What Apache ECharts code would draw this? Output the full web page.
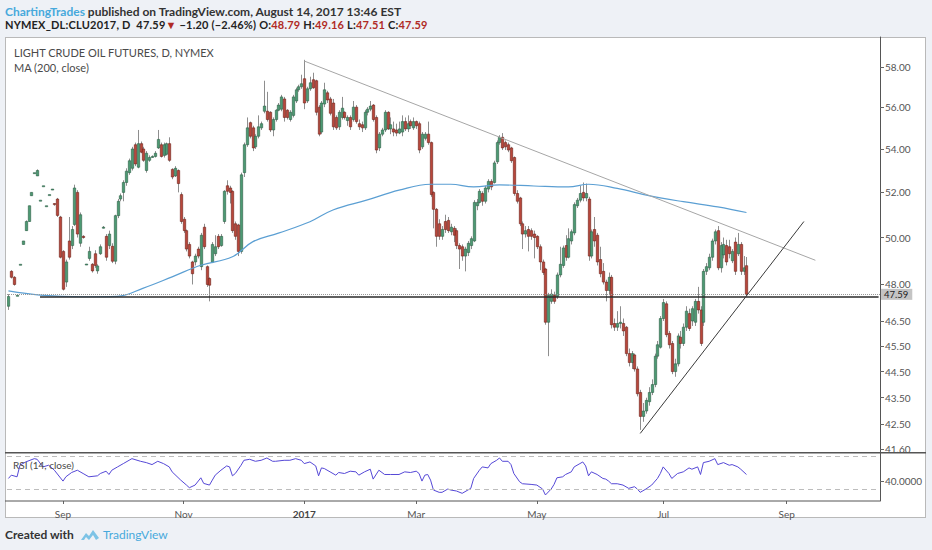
<!DOCTYPE html>
<html><head><meta charset="utf-8">
<script src="https://cdn.jsdelivr.net/npm/echarts@6/dist/echarts.min.js"></script>
<style>
html,body{margin:0;padding:0;background:#eef1f6;width:932px;height:550px;overflow:hidden;font-family:Lato,'Open Sans',sans-serif;}
.t{position:absolute;white-space:nowrap;z-index:5}
#frame{position:absolute;left:5px;top:37px;width:921px;height:481px;background:#fff;border:1px solid #b9b9b9;box-sizing:border-box;z-index:0}
#chart{position:absolute;left:0;top:0;width:932px;height:550px;z-index:1}
.red{color:#b02a25}
</style></head><body>
<div id="frame"></div>
<div id="chart"></div>
<div class="t" style="left:5px;top:4px;font-size:12px;font-weight:700;color:#333"><span style="color:#47a9dc">ChartingTrades</span> published on TradingView.com, August 14, 2017 13:46 EST</div>
<div class="t" style="left:5px;top:18px;font-size:11px;letter-spacing:0.2px;font-weight:700;color:#222">NYMEX_DL:CLU2017, D&nbsp; 47.59<span class="red">▼</span> −1.20 (−2.46%) O:<span class="red">48.79</span> H:<span class="red">49.16</span> L:<span class="red">47.51</span> C:<span class="red">47.59</span></div>
<div class="t" style="left:14px;top:46px;font-size:11px;color:#4a4a4a">LIGHT CRUDE OIL FUTURES, D, NYMEX</div>
<div class="t" style="left:14px;top:61px;font-size:11px;color:#4a4a4a">MA (200, close)</div>
<div class="t" style="left:13px;top:459px;font-size:10px;color:#4a4a4a">RSI (14, close)</div>
<div class="t" style="left:5px;top:527px;font-size:12px;font-weight:700;color:#333">Created with</div>
<svg class="t" style="left:80px;top:528px" width="20" height="14" viewBox="0 0 20 14"><path d="M1 12 L6 5 L9 8 L13 2 L19 10 L16 12 L13 7 L9 12 L6 9 L4 12 Z" fill="#7cc3e6"/></svg>
<div class="t" style="left:103px;top:527px;font-size:12px;color:#47a9dc">TradingView</div>
<script>
// ---------- data ----------
const startDate = '2016-08-05';
const barCount = 304;
const holidays = ['2016-09-05','2016-11-24','2016-12-26','2017-01-02','2017-01-16','2017-02-20','2017-04-14','2017-05-29','2017-07-04','2017-09-04'];
const monthNames = ['Jan','Feb','Mar','Apr','May','Jun','Jul','Aug','Sep','Oct','Nov','Dec'];
// [open, close, low, high]
const candles = [
[47.1,47.5,46.95,47.6],[48.55,48.3,48.25,48.6],[48.3,48.0,47.95,48.35],[47.55,47.55,47.55,47.55],[48.85,48.85,48.85,48.85],
[49.7,49.85,49.7,49.85],[50.3,50.7,50.3,50.75],[50.7,51.4,50.7,51.4],[51.85,52.0,51.85,52.0],[52.9,52.9,52.9,52.9],
[52.75,53.0,52.75,53.05],[51.65,51.65,51.65,51.65],[52.3,52.3,52.3,52.3],[51.4,51.4,51.4,51.4],[51.9,51.9,51.9,51.9],
[52.15,52.15,52.15,52.15],[51.5,51.45,51.4,51.5],[51.7,50.97,50.9,51.75],[50.9,49.15,49.1,50.95],[49.4,47.8,47.75,49.45],
[48.1,48.95,47.9,49.05],[49.85,49.15,49.05,50.9],[49.65,50.35,49.5,50.5],[50.57,52.2,50.5,52.35],[52.0,50.15,50.0,52.1],
[49.75,51.0,49.6,51.1],[50.05,50.0,49.95,50.1],[48.86,48.86,48.86,48.86],[49.1,49.4,49.0,49.6],[48.85,48.57,48.5,48.9],
[49.3,48.8,48.7,49.45],[48.57,48.78,48.45,48.85],[49.3,49.6,49.25,49.7],[50.45,50.45,50.4,50.5],[50.05,49.15,49.0,50.15],
[49.65,50.15,49.5,50.3],[49.62,48.98,48.9,49.75],[48.98,50.96,48.85,51.0],[50.96,51.6,50.85,51.7],[51.7,51.85,51.6,51.95],
[52.0,52.45,51.6,52.55],[52.45,52.97,52.3,53.1],[52.9,53.45,52.8,53.55],[53.1,54.0,53.0,54.1],[54.2,53.3,53.2,54.3],
[53.15,54.25,53.1,54.9],[54.25,53.85,53.8,54.35],[54.0,53.47,53.4,54.1],[53.0,53.8,52.9,53.9],[53.47,53.6,53.4,53.7],
[53.65,53.65,53.6,53.7],[53.65,53.8,53.6,53.9],[54.05,54.45,54.0,54.9],[54.2,53.65,53.6,54.3],[53.7,54.2,53.6,54.3],
[53.75,54.25,53.7,54.3],[54.25,53.47,53.4,54.55],[53.05,52.7,52.6,53.1],[52.75,53.1,52.7,53.2],[53.0,52.4,52.0,53.05],
[51.9,50.7,50.6,52.0],[50.8,50.3,50.2,50.9],[50.3,49.5,49.4,50.35],[49.7,49.2,49.1,49.8],[48.95,48.45,48.0,49.0],
[48.95,49.2,48.8,49.3],[49.5,49.2,49.1,49.6],[48.75,50.1,48.6,50.2],[50.45,49.6,49.5,50.6],[48.75,48.0,47.9,48.8],
[48.25,47.97,47.3,48.3],[48.94,49.7,48.9,49.8],[49.3,49.6,49.2,50.1],[50.05,49.6,49.5,50.15],[49.65,50.05,49.6,50.15],
[50.7,52.05,50.6,52.1],[52.3,52.05,51.9,52.55],[52.2,52.0,51.5,52.3],[52.05,50.3,50.2,52.1],[50.6,50.05,49.9,50.7],
[50.55,49.4,49.2,50.6],[49.4,52.8,49.3,52.9],[52.9,54.2,52.7,54.3],[54.2,55.0,54.1,55.5],[55.25,54.6,54.5,55.3],
[55.0,54.05,53.9,55.1],[54.1,54.6,54.0,54.7],[54.6,55.05,54.5,55.6],[55.0,55.2,54.9,55.3],[55.8,56.05,55.7,57.3],
[55.8,55.4,55.3,56.75],[55.75,54.9,54.8,55.8],[54.9,55.4,54.6,55.5],[55.4,55.85,55.3,55.9],[55.85,56.1,55.8,56.2],
[55.9,56.5,55.8,56.6],[56.4,55.5,55.3,56.5],[55.85,55.5,55.4,55.9],[55.4,55.75,55.3,55.85],[55.6,56.5,55.5,56.6],
[56.3,56.85,56.2,56.95],[56.85,57.0,56.75,57.1],[57.0,57.15,56.9,57.6],[57.4,56.2,55.9,58.35],[56.3,56.9,56.2,57.0],
[56.9,57.2,56.8,57.5],[57.35,56.95,56.9,57.7],[57.3,55.75,55.6,57.35],[56.0,54.7,54.6,56.1],[54.8,56.2,54.7,56.3],
[56.15,56.85,56.0,57.2],[56.7,56.35,56.2,56.8],[56.4,55.7,55.6,56.5],[56.2,55.05,54.9,56.4],[55.5,55.0,54.9,55.6],
[55.05,55.75,54.9,55.85],[55.5,55.95,55.4,56.5],[55.75,55.5,55.4,55.8],[55.35,55.5,55.1,55.6],[55.5,55.05,54.9,55.6],
[55.4,56.0,55.3,56.3],[56.0,55.3,55.2,56.1],[55.2,55.05,54.9,55.4],[55.15,55.0,54.8,55.3],[55.0,55.75,54.9,55.85],
[55.75,55.9,55.6,56.0],[55.9,56.05,55.8,56.3],[56.1,55.4,55.3,56.15],[55.5,53.95,53.8,55.6],[54.05,54.7,53.9,54.8],
[54.7,54.9,54.6,55.0],[54.9,55.75,54.8,55.85],[55.75,54.95,54.9,55.8],[54.95,55.15,54.7,55.5],[54.95,54.8,54.6,55.3],
[54.9,54.75,54.6,55.2],[54.75,54.95,54.7,55.3],[54.8,55.3,54.6,55.6],[55.3,54.95,54.85,55.5],[54.95,55.2,54.8,55.6],
[55.3,55.1,54.95,55.4],[55.0,55.3,54.9,55.5],[55.3,55.1,54.95,55.35],[55.2,53.95,53.8,55.3],[54.1,54.7,54.0,54.8],
[54.5,54.7,54.4,54.8],[54.7,54.3,54.2,55.3],[54.3,51.9,51.8,54.35],[52.0,51.24,50.4,52.05],[51.24,50.05,49.6,51.3],
[50.6,50.05,49.9,50.8],[50.05,50.35,49.9,50.5],[50.7,50.35,50.2,51.0],[50.75,50.3,50.2,50.9],[50.25,50.45,50.1,50.6],
[50.4,50.1,49.8,50.5],[50.3,49.65,49.5,50.4],[49.65,49.5,48.65,49.75],[49.6,49.2,49.0,49.7],[49.2,49.5,48.55,49.6],
[49.35,49.75,49.2,49.85],[49.65,49.95,49.5,50.05],[49.85,51.55,49.8,51.65],[51.4,51.55,51.2,51.7],[51.55,52.05,51.5,52.15],
[51.95,51.6,51.4,52.05],[51.6,52.2,51.5,52.3],[52.15,52.5,52.0,52.6],[52.5,52.25,52.1,52.6],[52.45,53.35,52.4,53.45],
[53.4,54.3,53.3,54.4],[54.3,54.55,54.2,54.65],[54.55,54.05,53.95,54.75],[54.3,54.1,53.95,54.4],[54.2,53.95,53.85,54.3],
[54.05,53.45,53.35,54.1],[53.6,51.95,51.85,53.65],[51.95,51.6,51.5,52.1],[51.75,50.6,50.5,51.8],[50.6,50.15,49.5,50.7],
[50.15,50.3,50.0,50.5],[50.35,50.05,49.4,50.5],[50.3,50.05,49.9,50.4],[50.15,50.0,49.1,50.3],[50.05,49.6,49.5,50.1],
[49.6,48.95,48.6,49.7],[48.95,48.5,48.4,49.05],[48.65,46.45,46.35,48.7],[46.45,47.55,45.1,47.65],[47.3,47.6,47.2,47.8],
[47.55,47.3,47.2,47.7],[47.5,48.4,47.4,48.5],[48.4,48.85,48.3,49.6],[48.8,49.55,48.7,49.65],[49.65,49.15,49.0,50.1],
[49.15,49.95,49.1,50.4],[49.85,50.25,49.7,50.35],[50.2,51.45,50.1,51.55],[51.4,51.65,51.3,51.75],[51.65,51.95,51.55,52.3],
[52.0,51.75,51.6,52.45],[51.75,51.95,51.6,52.4],[51.7,49.2,49.0,51.8],[49.2,50.25,49.1,50.35],[50.35,49.85,49.6,50.9],
[50.1,48.95,48.8,50.2],[49.05,48.45,48.3,49.6],[48.55,48.1,48.0,48.9],[48.1,47.75,47.3,48.2],[47.75,48.3,47.6,48.5],
[48.3,46.35,46.2,48.4],[46.4,46.25,46.1,46.6],[46.25,46.4,46.1,46.9],[46.4,46.45,46.2,47.1],[46.4,46.1,45.9,46.6],
[46.25,45.2,45.1,46.3],[45.2,44.85,44.7,45.4],[44.85,45.2,44.6,45.3],[45.15,44.6,44.5,45.2],[44.6,43.65,43.55,44.7],
[43.7,42.8,42.3,43.8],[42.8,43.0,42.6,43.3],[43.0,43.4,42.9,43.5],[43.35,43.7,43.2,43.9],[43.7,44.0,43.6,44.2],
[44.0,45.1,43.9,45.2],[45.1,45.55,45.0,45.7],[45.45,46.6,45.4,46.7],[46.6,47.25,46.5,47.4],[47.2,45.95,45.85,47.3],
[46.0,45.55,45.4,46.1],[45.6,44.5,44.4,45.7],[44.5,44.8,44.3,45.0],[44.8,45.9,44.7,46.0],[45.85,45.6,45.4,46.1],
[45.6,46.25,45.5,46.4],[46.25,46.9,46.1,47.1],[46.8,46.2,46.1,47.0],[46.5,47.0,46.3,47.1],[46.45,47.3,46.3,47.4],
[47.3,46.95,46.8,47.9],[46.95,45.6,45.5,47.1],[46.45,48.55,46.3,48.65],[48.55,48.75,48.4,48.9],[48.7,49.15,48.6,49.3],
[49.15,49.85,49.0,49.95],[49.85,50.25,49.7,50.35],[50.3,48.7,48.6,50.5],[48.7,49.65,48.5,49.8],[49.25,49.7,49.1,50.0],
[49.65,48.95,48.8,49.9],[49.6,49.3,49.1,49.9],[49.0,49.4,48.9,49.5],[49.8,48.55,48.4,50.0],[49.3,49.7,49.2,50.2],
[49.7,48.55,48.4,49.8],[48.55,48.7,48.4,49.2],[48.79,47.59,47.51,49.16]
];
const maIdx = [0,11,26,38,47,57,67,78,85,94,105,113,125,136,147,154,162,171,183,195,202,212,223,235,247,257];
const maVal = [47.73,47.56,47.49,47.51,47.85,48.32,48.81,49.17,49.81,50.19,50.69,51.21,51.66,52.10,52.37,52.37,52.25,52.34,52.29,52.25,52.37,52.18,51.85,51.58,51.35,51.10];
const rsiIdx = [0,1,3,4,6,9,10,12,14,16,19,20,22,24,26,28,31,32,34,35,36,38,40,42,43,46,48,50,52,54,56,57,60,62,63,65,67,68,70,71,72,74,76,77,78,79,81,82,84,86,88,90,92,93,96,98,100,102,103,105,107,108,109,110,112,114,115,117,119,121,122,124,126,127,129,131,133,136,138,140,142,143,144,145,146,147,148,150,151,153,154,156,158,160,161,162,164,165,167,168,170,171,172,174,175,176,178,179,182,184,186,187,189,190,191,193,194,196,197,199,200,201,202,203,205,207,208,209,210,212,214,216,218,219,220,222,224,226,227,228,230,231,233,235,237,238,240,241,242,244,246,247,249,251,252,254,255,257];
const rsiVal = [42.8,46.8,44.8,58.8,62.8,66.8,66,56.8,58.8,52.8,39.6,44.8,50,52.8,48.8,44.8,46,48.8,51.6,47.6,52.8,56.8,60.8,64.8,66.8,63.6,62,59.6,63.6,60.8,56.8,50.8,40.8,34.8,31.6,34.8,43.6,36.8,34.8,40.8,46.8,52.8,58,56.8,46,48.8,58.8,64.8,66,63.6,64.8,67.6,63.6,63.6,64.8,64.8,66.8,64.8,60.8,62.8,58,46,55.6,54.8,50.8,46.8,50,48.8,51.6,50.8,46.8,50.8,54,42,52.8,47.6,47.6,47.6,50.8,50,51.6,48.8,39.6,46.8,47.6,40.8,28.8,26,26,30,28.8,27.6,24.8,28.8,30.8,42.8,52.8,56.8,55.6,60.8,64.8,67.6,63.6,63.6,59.6,48.8,38.8,36.4,35.6,34.8,30,22.8,30,35.6,43.6,44.8,47.6,50.8,56.8,60.8,62.8,58,46,50.8,47.6,42.8,42,39.6,36.4,36.4,34.8,30.8,32.8,30,26,30,34.8,42.8,48.8,56.8,48.8,42.8,48.8,50.8,55.6,54,56.8,47.6,62,63.6,66.8,59.6,62,58.8,59.6,56.8,54,47.6];
const resistIdx = [103, 281], resistVal = [58.29, 49.02];
const supportIdx = [220, 277], supportVal = [42.17, 50.7];
const lastPrice = 47.59;
const levelPrice = 47.49, levelStartIdx = 11;
const priceTicks = [58, 56, 54, 52, 50, 48, 46.5, 45.5, 44.5, 43.5, 42.5, 41.6];
const rsiTicks = [40];
const rsiLevels = [70, 30];

// ---------- build ----------
function pad(n){return (n<10?'0':'')+n;}
const cats = [];
(function(){
  let d = new Date(startDate + 'T00:00:00Z');
  while (cats.length < barCount) {
    const wd = d.getUTCDay();
    const s = d.getUTCFullYear() + '-' + pad(d.getUTCMonth()+1) + '-' + pad(d.getUTCDate());
    if (wd !== 0 && wd !== 6 && holidays.indexOf(s) < 0) cats.push(s);
    d = new Date(d.getTime() + 86400000);
  }
})();
function showMonth(idx){
  const d = cats[idx], p = cats[idx-1];
  if (!d || !p) return false;
  if (d.slice(5,7) === p.slice(5,7)) return false;
  return (+d.slice(5,7)) % 2 === 1;
}
const candleData = candles.map((c,i)=>[i, c[0], c[1], c[2], c[3]]);
const maData = maIdx.map((k,i)=>[k, maVal[i]]);
const rsiData = rsiIdx.map((k,i)=>[k, rsiVal[i]]);

function renderCandle(params, api){
  const k = api.value(0), o = api.value(1), c = api.value(2), l = api.value(3), h = api.value(4);
  const po = api.coord([k,o]), pc = api.coord([k,c]), pl = api.coord([k,l]), ph = api.coord([k,h]);
  const x = Math.round(po[0]) + 0.5;
  const w = 2.4;
  const top = Math.min(po[1], pc[1]);
  let ht = Math.abs(po[1]-pc[1]); if (ht < 1) ht = 1;
  const up = c >= o;
  return {type:'group', children:[
    {type:'line', shape:{x1:x, y1:ph[1], x2:x, y2:pl[1]}, style:{stroke:'#8e8e8e', lineWidth:1}},
    {type:'rect', shape:{x:x-w/2, y:top, width:w, height:ht}, style:{fill: up?'#4c9a73':'#b8473b', stroke: up?'#2b5e45':'#6d2018', lineWidth:0.6}}
  ]};
}

const chart = echarts.init(document.getElementById('chart'), null, {renderer:'svg'});
chart.setOption({
  animation:false,
  backgroundColor:'transparent',
  textStyle:{fontFamily:'Lato, "Open Sans", sans-serif'},
  grid:[
    {left:7, top:37, width:873, height:415.7},
    {left:7, top:452.7, width:873, height:48.3}
  ],
  xAxis:[
    {type:'category', gridIndex:0, data:cats, boundaryGap:true, axisLine:{show:false}, axisTick:{show:false}, axisLabel:{show:false}, splitLine:{show:false}},
    {type:'category', gridIndex:1, data:cats, boundaryGap:true, axisLine:{show:false},
     axisTick:{show:true, interval:showMonth, alignWithLabel:true, length:3, lineStyle:{color:'#666'}},
     axisLabel:{interval:showMonth, margin:8, color:'#555', fontSize:10,
       formatter:function(v){const m=+v.slice(5,7); return m===1?('{b|'+v.slice(0,4)+'}'):monthNames[m-1];},
       rich:{b:{fontWeight:'bold', color:'#444', fontSize:10}}},
     splitLine:{show:false}}
  ],
  yAxis:[
    {type:'log', gridIndex:0, position:'right', min:41.47, max:59.52,
     axisLine:{show:true, lineStyle:{color:'#555'}},
     axisTick:{show:true, length:4, customValues:priceTicks, lineStyle:{color:'#666'}},
     axisLabel:{customValues:priceTicks, formatter:v=>(+v).toFixed(2), color:'#555', fontSize:10, margin:5},
     splitLine:{show:false}},
    {type:'value', gridIndex:1, position:'right', min:15.5, max:74,
     axisLine:{show:true, lineStyle:{color:'#555'}},
     axisTick:{show:true, length:4, customValues:rsiTicks, lineStyle:{color:'#666'}},
     axisLabel:{customValues:rsiTicks, formatter:v=>(+v).toFixed(4), color:'#555', fontSize:10, margin:5},
     splitLine:{show:false}}
  ],
  graphic:[
    {type:'line', z:100, shape:{x1:5, y1:452.7, x2:926, y2:452.7}, style:{stroke:'#555', lineWidth:1.5}},
    {type:'line', z:100, shape:{x1:5, y1:501, x2:880, y2:501}, style:{stroke:'#555', lineWidth:1}}
  ],
  series:[
    {type:'custom', name:'candles', xAxisIndex:0, yAxisIndex:0, renderItem:renderCandle, data:candleData,
     encode:{x:0, y:[1,2,3,4]}, clip:true, z:3},
    {type:'line', name:'MA', xAxisIndex:0, yAxisIndex:0, data:maData, smooth:0.4, showSymbol:false, symbol:'none',
     lineStyle:{color:'#5b9fd3', width:1.2}, z:4,
     markLine:{silent:true, symbol:['none','none'], animation:false,
       data:[
         {yAxis:lastPrice, lineStyle:{type:'dotted', color:'#9a9a9a', width:1},
          label:{show:true, position:'end', formatter:'47.59', backgroundColor:'#c4c4c4', color:'#222', fontSize:9.5, lineHeight:10, padding:[1,4,0,3], distance:1}},
         [{coord:[levelStartIdx, levelPrice], lineStyle:{type:'solid', color:'#2b2b2b', width:1.5}, label:{show:false}},
          {coord:[barCount-1, levelPrice]}]
       ]}},
    {type:'line', name:'resistance', xAxisIndex:0, yAxisIndex:0, data:resistIdx.map((k,i)=>[k,resistVal[i]]),
     symbol:'none', lineStyle:{color:'#a6a6a6', width:1}, z:5},
    {type:'line', name:'support', xAxisIndex:0, yAxisIndex:0, data:supportIdx.map((k,i)=>[k,supportVal[i]]),
     symbol:'none', lineStyle:{color:'#3a3a3a', width:1}, z:5},
    {type:'line', name:'RSI', xAxisIndex:1, yAxisIndex:1, data:rsiData, symbol:'none',
     lineStyle:{color:'#5548d6', width:1}, z:4,
     markLine:{silent:true, symbol:['none','none'], label:{show:false},
       lineStyle:{type:[5,4], color:'#bdbdbd', width:1},
       data:rsiLevels.map(v=>({yAxis:v}))}}
  ]
});
</script>
</body></html>
